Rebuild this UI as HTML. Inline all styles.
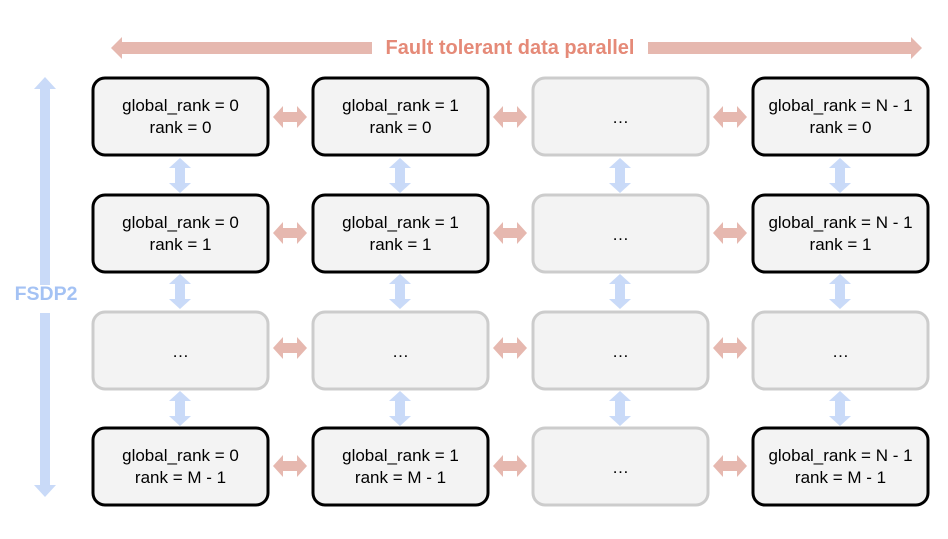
<!DOCTYPE html>
<html><head><style>body{margin:0;background:#fff}svg{display:block}</style></head><body>
<svg width="948" height="539" viewBox="0 0 948 539" xmlns="http://www.w3.org/2000/svg" font-family="Liberation Sans, Arial, sans-serif">
<defs>
<g id="h"><polygon points="0,0 10,-11 10,-5 24,-5 24,-11 34,0 24,11 24,5 10,5 10,11" fill="#e6b8af"/></g>
<g id="v"><polygon points="0,0 11,10 5,10 5,25 11,25 0,35 -11,25 -5,25 -5,10 -11,10" fill="#c9daf8"/></g>
</defs>
<polygon points="111,48 122,37 122,42 372,42 372,54 122,54 122,59" fill="#e6b8af"/>
<polygon points="922,48 911,37 911,42 648,42 648,54 911,54 911,59" fill="#e6b8af"/>
<text x="510" y="54" text-anchor="middle" font-size="20" font-weight="bold" fill="#e58a78">Fault tolerant data parallel</text>
<polygon points="45,77 56,89 50,89 50,285 40,285 40,89 34,89" fill="#c9daf8"/>
<polygon points="45,497 56,485 50,485 50,313 40,313 40,485 34,485" fill="#c9daf8"/>
<text x="46" y="300" text-anchor="middle" font-size="19.5" font-weight="bold" fill="#a4c2f4">FSDP2</text>
<g font-size="17" fill="#000" text-anchor="middle">
<use href="#h" x="273" y="117"/><use href="#h" x="493" y="117"/><use href="#h" x="713" y="117"/>
<use href="#h" x="273" y="233"/><use href="#h" x="493" y="233"/><use href="#h" x="713" y="233"/>
<use href="#h" x="273" y="348"/><use href="#h" x="493" y="348"/><use href="#h" x="713" y="348"/>
<use href="#h" x="273" y="466"/><use href="#h" x="493" y="466"/><use href="#h" x="713" y="466"/>
<use href="#v" x="180" y="158"/><use href="#v" x="400" y="158"/><use href="#v" x="620" y="158"/><use href="#v" x="840" y="158"/>
<use href="#v" x="180" y="274"/><use href="#v" x="400" y="274"/><use href="#v" x="620" y="274"/><use href="#v" x="840" y="274"/>
<use href="#v" x="180" y="391"/><use href="#v" x="400" y="391"/><use href="#v" x="620" y="391"/><use href="#v" x="840" y="391"/>
<rect x="93" y="78" width="175" height="77" rx="12" fill="#f3f3f3" stroke="#000" stroke-width="3"/>
<text x="180.5" y="111">global_rank = 0</text><text x="180.5" y="133">rank = 0</text>
<rect x="313" y="78" width="175" height="77" rx="12" fill="#f3f3f3" stroke="#000" stroke-width="3"/>
<text x="400.5" y="111">global_rank = 1</text><text x="400.5" y="133">rank = 0</text>
<rect x="533" y="78" width="175" height="77" rx="12" fill="#f3f3f3" stroke="#ccc" stroke-width="3"/>
<text x="620.5" y="123">…</text>
<rect x="753" y="78" width="175" height="77" rx="12" fill="#f3f3f3" stroke="#000" stroke-width="3"/>
<text x="840.5" y="111">global_rank = N - 1</text><text x="840.5" y="133">rank = 0</text>
<rect x="93" y="195" width="175" height="77" rx="12" fill="#f3f3f3" stroke="#000" stroke-width="3"/>
<text x="180.5" y="228">global_rank = 0</text><text x="180.5" y="250">rank = 1</text>
<rect x="313" y="195" width="175" height="77" rx="12" fill="#f3f3f3" stroke="#000" stroke-width="3"/>
<text x="400.5" y="228">global_rank = 1</text><text x="400.5" y="250">rank = 1</text>
<rect x="533" y="195" width="175" height="77" rx="12" fill="#f3f3f3" stroke="#ccc" stroke-width="3"/>
<text x="620.5" y="240">…</text>
<rect x="753" y="195" width="175" height="77" rx="12" fill="#f3f3f3" stroke="#000" stroke-width="3"/>
<text x="840.5" y="228">global_rank = N - 1</text><text x="840.5" y="250">rank = 1</text>
<rect x="93" y="312" width="175" height="77" rx="12" fill="#f3f3f3" stroke="#ccc" stroke-width="3"/>
<text x="180.5" y="357">…</text>
<rect x="313" y="312" width="175" height="77" rx="12" fill="#f3f3f3" stroke="#ccc" stroke-width="3"/>
<text x="400.5" y="357">…</text>
<rect x="533" y="312" width="175" height="77" rx="12" fill="#f3f3f3" stroke="#ccc" stroke-width="3"/>
<text x="620.5" y="357">…</text>
<rect x="753" y="312" width="175" height="77" rx="12" fill="#f3f3f3" stroke="#ccc" stroke-width="3"/>
<text x="840.5" y="357">…</text>
<rect x="93" y="428" width="175" height="77" rx="12" fill="#f3f3f3" stroke="#000" stroke-width="3"/>
<text x="180.5" y="461">global_rank = 0</text><text x="180.5" y="483">rank = M - 1</text>
<rect x="313" y="428" width="175" height="77" rx="12" fill="#f3f3f3" stroke="#000" stroke-width="3"/>
<text x="400.5" y="461">global_rank = 1</text><text x="400.5" y="483">rank = M - 1</text>
<rect x="533" y="428" width="175" height="77" rx="12" fill="#f3f3f3" stroke="#ccc" stroke-width="3"/>
<text x="620.5" y="473">…</text>
<rect x="753" y="428" width="175" height="77" rx="12" fill="#f3f3f3" stroke="#000" stroke-width="3"/>
<text x="840.5" y="461">global_rank = N - 1</text><text x="840.5" y="483">rank = M - 1</text>
</g>
</svg>
</body></html>
